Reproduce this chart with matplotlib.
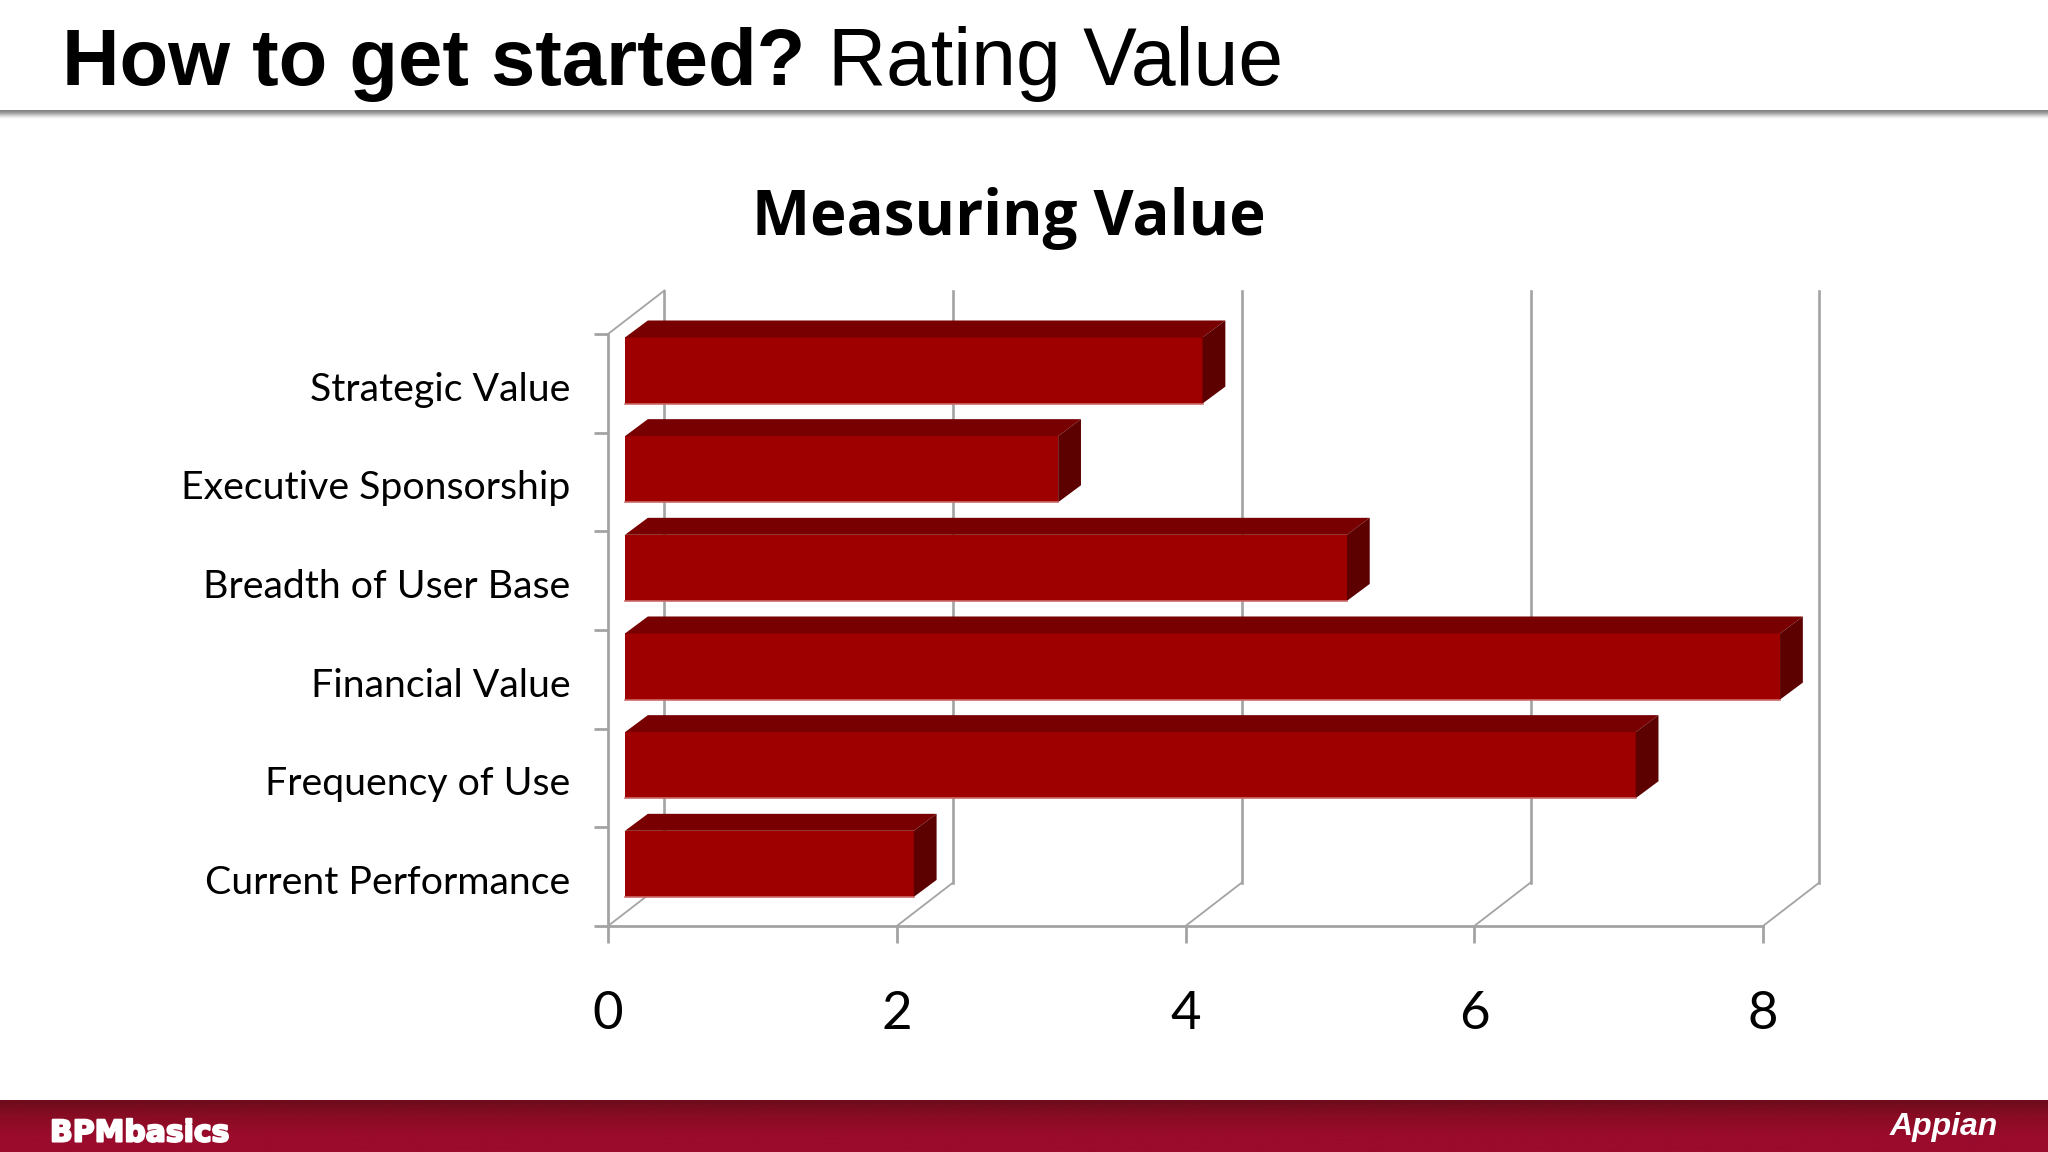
import matplotlib
matplotlib.use('Agg')
import matplotlib.pyplot as plt
import matplotlib.patheffects as pe
import numpy as np
from matplotlib.colors import LinearSegmentedColormap
from matplotlib.patches import Polygon
from matplotlib.transforms import ScaledTranslation

categories = ['Strategic Value', 'Executive Sponsorship', 'Breadth of User Base',
              'Financial Value', 'Frequency of Use', 'Current Performance']
values = [4, 3, 5, 8, 7, 2]
x_ticks = [0, 2, 4, 6, 8]

W, H = 2048, 1152
FRONT = '#9e0000'
TOP = '#780000'
SIDE = '#5c0000'
GRID = '#a3a3a3'

# depth of the fake 3d box and of the bars, in data units
WALL_DX, WALL_DY = 0.39, 0.44
BAR_DX, BAR_DY = 0.158, 0.172
BAR_START = 0.118
BAR_H = 0.67
BAR_SHIFT = 0.13

fig = plt.figure(figsize=(W / 100, H / 100), dpi=100, facecolor='white')

# slide furniture, in pixels
bg = fig.add_axes([0, 0, 1, 1])
bg.set_xlim(0, W)
bg.set_ylim(H, 0)
bg.axis('off')

footer = LinearSegmentedColormap.from_list('footer', ['#6e0c1c', '#8a0c24', '#9a0b2c', '#9a0b2c'])
bg.imshow(np.linspace(0, 1, 64).reshape(-1, 1), cmap=footer, extent=[0, W, 1152, 1100],
          aspect='auto', zorder=1)
rule = LinearSegmentedColormap.from_list('rule', ['#808080', '#a0a0a0', '#d8d8d8', '#ffffff'])
bg.imshow(np.linspace(0, 1, 16).reshape(-1, 1), cmap=rule, extent=[0, W, 119, 110],
          aspect='auto', zorder=1)
bg.set_xlim(0, W)
bg.set_ylim(H, 0)

bg.text(62, 64, 'How to get started?', family='Liberation Sans', weight='bold', fontsize=57.3,
        va='center', ha='left', color='black')
bg.text(828, 64, 'Rating Value', family='Liberation Sans', fontsize=58,
        va='center', ha='left', color='black')
bg.text(1009, 219, 'Measuring Value', family='Open Sans', weight='bold', fontsize=44.5,
        va='center', ha='center', color='black')
bpm = bg.text(50, 1133, 'BPMbasics', family='DejaVu Sans', weight='bold', fontsize=21.5,
              va='center', ha='left', color='white')
bpm.set_path_effects([pe.withStroke(linewidth=1.5, foreground='white')])
bg.text(1890, 1127, 'Appian', family='Liberation Sans', style='italic', weight='bold',
        fontsize=23, va='center', ha='left', color='white')

# chart
ax = fig.add_axes([608 / W, 1 - 926 / H, (1763 - 608) / W, (926 - 334) / H])
ax.patch.set_alpha(0)
ax.set_xlim(0, 8)
ax.set_ylim(len(categories), 0)

for s in ['top', 'right']:
    ax.spines[s].set_visible(False)
for s in ['left', 'bottom']:
    ax.spines[s].set_color(GRID)
    ax.spines[s].set_linewidth(2)

n = len(categories)
# back wall and floor lines
for x in x_ticks:
    ax.plot([x + WALL_DX, x + WALL_DX], [n - WALL_DY, -WALL_DY], color=GRID, lw=1.9,
            clip_on=False, zorder=1)
    ax.plot([x, x + WALL_DX], [n, n - WALL_DY], color=GRID, lw=1.3, clip_on=False, zorder=1)
ax.plot([0, WALL_DX], [0, -WALL_DY], color=GRID, lw=1.3, clip_on=False, zorder=1)

centers = np.arange(n) + 0.5 - BAR_SHIFT
ax.barh(centers, values, height=BAR_H, left=BAR_START, color=FRONT, linewidth=0, zorder=3,
        clip_on=False)
for y, v in zip(centers, values):
    x0, x1 = BAR_START, BAR_START + v
    y0, y1 = y - BAR_H / 2, y + BAR_H / 2
    ax.add_patch(Polygon([(x0, y0), (x1, y0), (x1 + BAR_DX, y0 - BAR_DY), (x0 + BAR_DX, y0 - BAR_DY)],
                         closed=True, color=TOP, lw=0, clip_on=False, zorder=3))
    ax.add_patch(Polygon([(x1, y0), (x1 + BAR_DX, y0 - BAR_DY), (x1 + BAR_DX, y1 - BAR_DY), (x1, y1)],
                         closed=True, color=SIDE, lw=0, clip_on=False, zorder=3))
    ax.plot([x0, x1], [y1, y1], color='#cc6a6a', lw=1.2, clip_on=False, zorder=4)

ax.set_xticks(x_ticks)
ax.set_xticklabels([str(t) for t in x_ticks], family='Lato', fontsize=38)
ax.tick_params(axis='x', length=12, width=2, color=GRID, pad=35, labelcolor='black')

ax.set_yticks(np.arange(n) + 0.5)
ax.set_yticklabels(categories, family='Lato', fontsize=28.3)
ax.set_yticks(np.arange(n + 1), minor=True)
ax.tick_params(axis='y', which='major', length=0, pad=27, labelcolor='black')
ax.tick_params(axis='y', which='minor', length=10, width=2, color=GRID)

# nudge the category labels down a little
nudge = ScaledTranslation(0, -2 / 72, fig.dpi_scale_trans)
for lab in ax.get_yticklabels():
    lab.set_transform(lab.get_transform() + nudge)

plt.savefig('out.png', dpi=100)
